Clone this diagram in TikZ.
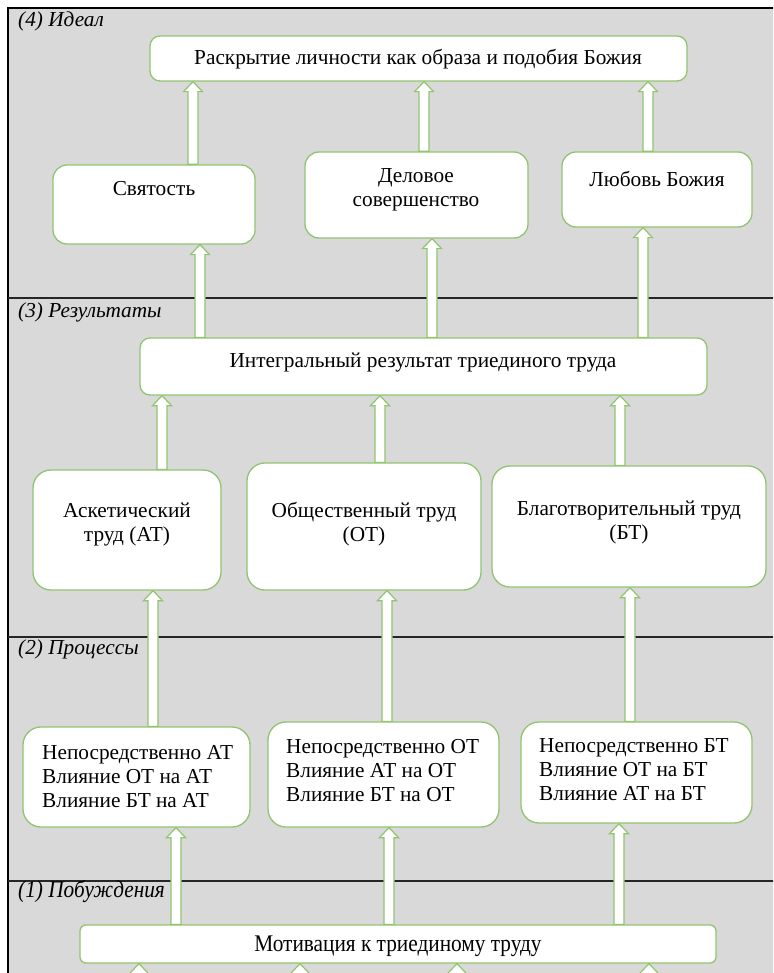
\documentclass[tikz,border=0pt]{standalone}
\usepackage{fontspec}
\setmainfont{Liberation Serif}
\usetikzlibrary{calc}
\definecolor{bggray}{HTML}{D9D9D9}
\definecolor{bgreen}{RGB}{145,196,110}
% #1 start point (node anchor or coordinate), #2 target node, #3 x position
\newcommand\blockarrow[3]{%
  \draw[arrowshape] let \p1=(#1), \p2=(#2.south) in
    ({#3pt-5pt},\y1) -- ({#3pt-5pt},{\y2-10pt}) -- ({#3pt-9.5pt},{\y2-10pt})
    -- ({#3pt},\y2) -- ({#3pt+9.5pt},{\y2-10pt}) -- ({#3pt+5pt},{\y2-10pt})
    -- ({#3pt+5pt},\y1) -- cycle;}
\begin{document}
\begin{tikzpicture}[x=1pt,y=-1pt,
  box/.style={draw=bgreen, line width=1.3pt, fill=white, rounded corners=14pt, inner sep=0pt},
  txt/.style={font=\fontsize{21.3}{24}\selectfont, align=center, inner sep=0pt},
  ltxt/.style={font=\fontsize{21.3}{24}\selectfont, align=left, inner sep=0pt, anchor=west},
  lbl/.style={font=\fontsize{21.3}{24}\selectfont\itshape, inner sep=0pt, anchor=west},
  sep/.style={draw=black!85, line width=1.2pt},
  arrowshape/.style={draw=bgreen, line width=1.2pt, fill=white, line join=miter}]
\useasboundingbox (0,0) rectangle (773,973);
\clip (0,0) rectangle (773,973);
\fill[white] (0,0) rectangle (773,973);
\fill[bggray] (8,8) rectangle (780,980);
\draw[black, line width=1.5pt] (8,985) -- (8,8) -- (780,8);
% separators
\draw[sep] (8,298) -- (780,298);
\draw[sep] (8,637) -- (780,637);
\draw[sep] (8,881) -- (780,881);
% labels
\node[lbl] (l4) at (18,21) {(4) Идеал};
\node[lbl] (l3) at (18,312) {(3) Результаты};
\node[lbl] (l2) at (18,649) {(2) Процессы};
\node[lbl] (l1) at (18,892) {\scalebox{1}[1.12]{(1) Побуждения}};
% boxes
\node[box, rounded corners=10pt, minimum width=537pt, minimum height=45pt] (ideal) at (418.5,58.5) {};
\node[box, minimum width=202pt, minimum height=79pt] (svyat) at (154,204.5) {};
\node[box, minimum width=223pt, minimum height=86pt] (delo) at (416.5,195) {};
\node[box, minimum width=190pt, minimum height=75pt] (lyub) at (657,189.5) {};
\node[box, rounded corners=10pt, minimum width=567pt, minimum height=57pt] (integr) at (423.5,366.5) {};
\node[box, rounded corners=18pt, minimum width=188pt, minimum height=120pt] (asket) at (127,530) {};
\node[box, rounded corners=18pt, minimum width=234pt, minimum height=127pt] (obsh) at (364,526.5) {};
\node[box, rounded corners=18pt, minimum width=274pt, minimum height=121pt] (blag) at (629,526.5) {};
\node[box, rounded corners=18pt, minimum width=227pt, minimum height=100pt] (p1) at (136.5,777) {};
\node[box, rounded corners=18pt, minimum width=231pt, minimum height=105pt] (p2) at (383.5,774.5) {};
\node[box, rounded corners=18pt, minimum width=231pt, minimum height=101pt] (p3) at (636.5,772.5) {};
\node[box, rounded corners=6pt, minimum width=636pt, minimum height=38pt] (motiv) at (398,944) {};
% texts
\node[txt] (tideal) at (418,59) {Раскрытие личности как образа и подобия Божия};
\node[txt] (tsvyat) at (154,189) {Святость};
\node[txt] (tdelo) at (416,190) {Деловое\\совершенство};
\node[txt] (tlyub) at (657,179) {Любовь Божия};
\node[txt] (tintegr) at (423,363) {Интегральный результат триединого труда};
\node[txt] (tasket) at (127,525) {Аскетический\\труд (АТ)};
\node[txt] (tobsh) at (364,524) {Общественный труд\\(ОТ)};
\node[txt] (tblag) at (629,522) {Благотворительный труд\\(БТ)};
\node[ltxt] (tp1) at (42,777) {Непосредственно АТ\\Влияние ОТ на АТ\\Влияние БТ на АТ};
\node[ltxt] (tp2) at (286,771) {Непосредственно ОТ\\Влияние АТ на ОТ\\Влияние БТ на ОТ};
\node[ltxt] (tp3) at (539,770) {Непосредственно БТ\\Влияние ОТ на БТ\\Влияние АТ на БТ};
\node[txt] (tmotiv) at (398,946) {\scalebox{1}[1.12]{Мотивация к триединому труду}};
% bottom free ends
\coordinate (b1) at (139,990);
\coordinate (b2) at (300,990);
\coordinate (b3) at (457,990);
\coordinate (b4) at (649,990);
% arrows
\blockarrow{svyat.north}{ideal}{193}
\blockarrow{delo.north}{ideal}{424}
\blockarrow{lyub.north}{ideal}{648}
\blockarrow{integr.north}{svyat}{200}
\blockarrow{integr.north}{delo}{432}
\blockarrow{integr.north}{lyub}{643}
\blockarrow{asket.north}{integr}{162}
\blockarrow{obsh.north}{integr}{380}
\blockarrow{blag.north}{integr}{620}
\blockarrow{p1.north}{asket}{153}
\blockarrow{p2.north}{obsh}{387}
\blockarrow{p3.north}{blag}{630}
\blockarrow{motiv.north}{p1}{176}
\blockarrow{motiv.north}{p2}{389}
\blockarrow{motiv.north}{p3}{619}
\blockarrow{b1}{motiv}{139}
\blockarrow{b2}{motiv}{300}
\blockarrow{b3}{motiv}{457}
\blockarrow{b4}{motiv}{649}
\end{tikzpicture}
\end{document}
